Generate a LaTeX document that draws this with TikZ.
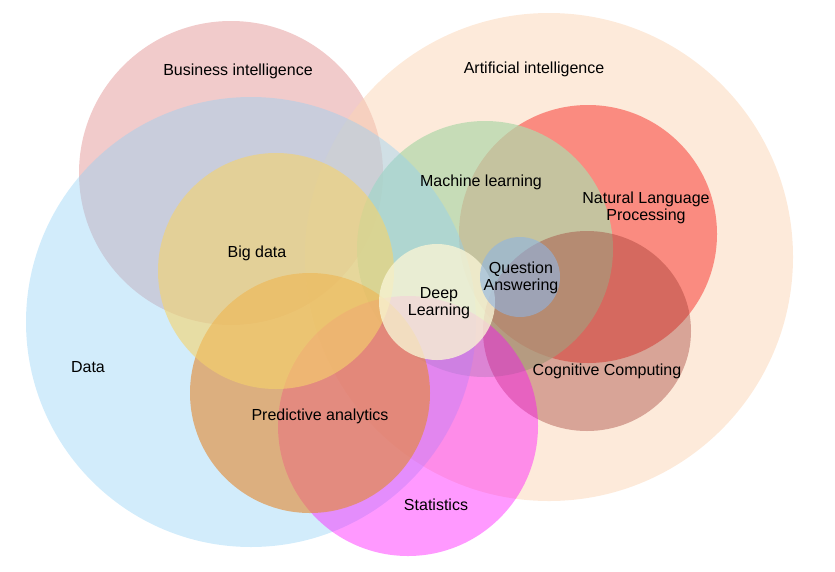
\documentclass[tikz,border=0pt]{standalone}
\usepackage{fontspec}
\setmainfont{Liberation Sans}
\definecolor{bicol}{RGB}{230,160,160}
\definecolor{aicol}{RGB}{251,213,181}
\definecolor{nlpcol}{RGB}{247,63,54}
\definecolor{mlcol}{RGB}{178,216,171}
\definecolor{cogcol}{RGB}{155,50,42}
\definecolor{datacol}{RGB}{142,208,246}
\definecolor{statcol}{RGB}{255,0,255}
\definecolor{predcol}{RGB}{228,139,51}
\definecolor{bigcol}{RGB}{246,211,107}
\definecolor{dlcol}{RGB}{248,244,212}
\definecolor{qacol}{RGB}{142,180,227}
\begin{document}
\begin{tikzpicture}[x=1pt,y=-1pt,
		blob/.style 2 args={fill=#1,fill opacity=#2},
		every node/.style={font=\fontsize{16}{17}\selectfont,align=center,inner sep=0pt}]
			\useasboundingbox (0,0) rectangle (835,571);
			\fill[blob={bicol}{.55}] (231,173) circle (152pt);
			\fill[blob={aicol}{.5}] (549,257) circle (244pt);
			\fill[blob={nlpcol}{.55}] (588,234) circle (129pt);
			\fill[blob={mlcol}{.73}] (485,249) circle (128pt);
			\fill[blob={cogcol}{.38}] (587,331) ellipse (104pt and 100pt);
			\fill[blob={datacol}{.4}] (251,322) circle (225pt);
			\fill[blob={statcol}{.4}] (408,426) circle (130pt);
			\fill[blob={predcol}{.62}] (310,393) circle (120pt);
			\fill[blob={bigcol}{.6}] (276,271) circle (118pt);
			\fill[blob={dlcol}{.8}] (437,302) circle (58pt);
			\fill[blob={qacol}{.6}] (520,277) circle (40pt);
			\node (bi) at (238,71) {Business intelligence};
			\node (ai) at (534,69) {Artificial intelligence};
			\node (ml) at (481,182) {Machine learning};
			\node (nlp) at (646,208) {Natural Language\\Processing};
			\node (qa) at (521,278) {Question\\Answering};
			\node (dl) at (439,303) {Deep\\Learning};
			\node (big) at (257,253) {Big data};
			\node (data) at (88,367) {Data};
			\node (pred) at (320,416) {Predictive analytics};
			\node (stat) at (436,505) {Statistics};
			\node (cog) at (607,371) {Cognitive Computing};
		\end{tikzpicture}
\end{document}
